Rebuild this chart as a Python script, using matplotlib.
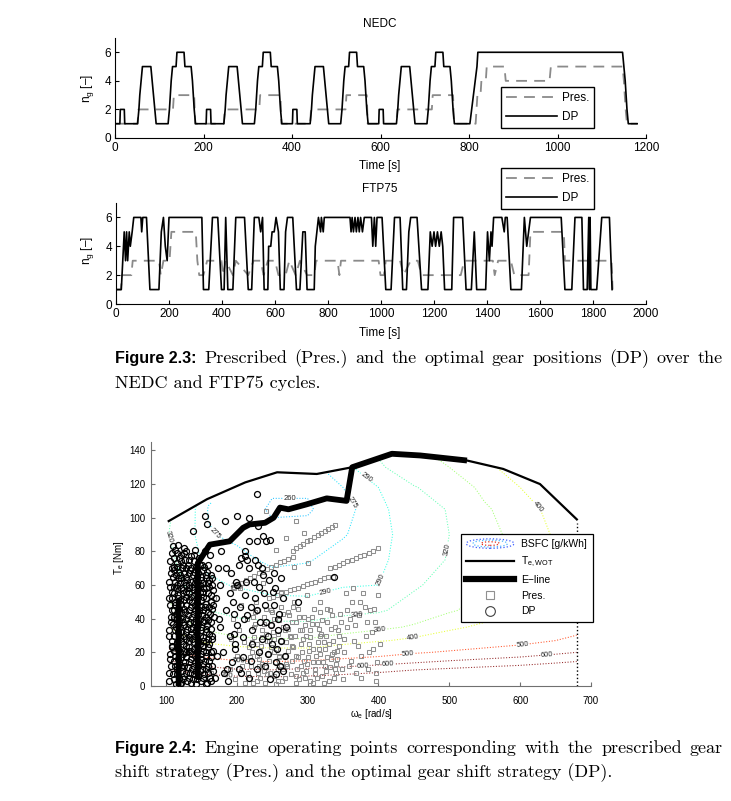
import numpy as np
import matplotlib
matplotlib.use("Agg")
import matplotlib.pyplot as plt
from matplotlib.patches import Polygon, Ellipse
from matplotlib.legend_handler import HandlerBase
from matplotlib.lines import Line2D
from matplotlib.colors import Normalize

# -------------------------------
# data: gear positions (time [s], gear)
# -------------------------------
nedc_dp = [
    (0, 1), (11, 1), (12, 2), (21, 2), (22, 1), (51, 1), (54, 2), (56, 3), (59, 4), (62, 5), (81, 5), (84, 4), (87, 3),
    (90, 2), (93, 1), (120, 1), (123, 2), (125, 3), (127, 4), (130, 5), (138, 5), (140, 6), (156, 6), (158, 5), (172, 5),
    (175, 4), (177, 3), (179, 2), (182, 1),
    (195, 1), (206, 1), (207, 2), (216, 2), (217, 1), (246, 1), (249, 2), (251, 3), (254, 4), (257, 5), (276, 5), (279, 4),
    (282, 3), (285, 2), (288, 1), (315, 1), (318, 2), (320, 3), (322, 4), (325, 5), (333, 5), (335, 6), (351, 6), (353, 5),
    (367, 5), (370, 4), (372, 3), (374, 2), (377, 1),
    (390, 1), (401, 1), (402, 2), (411, 2), (412, 1), (441, 1), (444, 2), (446, 3), (449, 4), (452, 5), (471, 5), (474, 4),
    (477, 3), (480, 2), (483, 1), (510, 1), (513, 2), (515, 3), (517, 4), (520, 5), (528, 5), (530, 6), (546, 6), (548, 5),
    (562, 5), (565, 4), (567, 3), (569, 2), (572, 1),
    (585, 1), (596, 1), (597, 2), (606, 2), (607, 1), (636, 1), (639, 2), (641, 3), (644, 4), (647, 5), (666, 5), (669, 4),
    (672, 3), (675, 2), (678, 1), (705, 1), (708, 2), (710, 3), (712, 4), (715, 5), (723, 5), (725, 6), (741, 6), (743, 5),
    (757, 5), (760, 4), (762, 3), (764, 2), (767, 1),
    (802, 1), (806, 2), (810, 3), (814, 4), (818, 5), (820, 6), (1147, 6), (1150, 5), (1153, 4), (1155, 3), (1157, 2),
    (1160, 1), (1180, 1),
]

nedc_pres = [
    (0, 1), (51, 1), (53, 2), (131, 2), (133, 3), (179, 3), (181, 1),
    (246, 1), (248, 2), (326, 2), (328, 3), (374, 3), (376, 1),
    (441, 1), (443, 2), (521, 2), (523, 3), (569, 3), (571, 1),
    (636, 1), (638, 2), (716, 2), (718, 3), (764, 3), (766, 1),
    (815, 1), (817, 2), (819, 3), (826, 3), (828, 4), (838, 4), (840, 5), (880, 5), (883, 4), (982, 4), (985, 5),
    (1147, 5), (1150, 4), (1152, 3), (1154, 2), (1157, 1), (1180, 1),
]

ftp_dp = [
    (0, 1), (20, 1), (31, 5), (36, 3), (40, 5), (44, 3), (50, 5), (54, 4), (61, 5), (67, 6), (94, 6), (97, 5), (101, 6),
    (115, 6), (128, 1), (162, 1), (171, 5), (179, 6), (186, 4), (193, 3), (200, 6), (324, 6), (330, 1), (350, 1),
    (364, 6), (384, 6), (398, 1), (408, 1), (414, 6), (422, 1), (441, 1), (452, 6), (485, 6), (499, 1), (512, 1),
    (522, 6), (539, 6), (546, 5), (553, 6), (559, 1), (573, 1), (576, 4), (584, 4), (589, 5), (597, 5), (604, 6),
    (613, 5), (620, 1), (634, 1), (640, 5), (647, 6), (667, 6), (681, 1), (694, 1), (705, 5), (714, 5), (721, 1),
    (748, 1), (752, 4), (758, 5), (764, 6), (772, 5), (775, 6), (782, 5), (786, 6), (883, 6), (887, 5), (891, 6),
    (896, 5), (902, 6), (907, 5), (913, 6), (918, 5), (923, 6), (930, 5), (937, 6), (964, 6), (969, 4), (975, 6),
    (980, 4), (985, 6), (1004, 6), (1018, 1), (1038, 1), (1051, 6), (1072, 6), (1082, 1), (1096, 1), (1105, 5),
    (1112, 6), (1136, 6), (1153, 1), (1177, 1), (1186, 5), (1193, 4), (1200, 5), (1206, 4), (1213, 5), (1220, 4),
    (1227, 5), (1233, 4), (1240, 1), (1267, 1), (1274, 6), (1308, 6), (1321, 1), (1341, 1), (1352, 5), (1361, 1),
    (1395, 1), (1402, 5), (1409, 3), (1415, 5), (1419, 4), (1425, 6), (1456, 6), (1465, 5), (1469, 6), (1476, 6),
    (1490, 1), (1530, 1), (1541, 6), (1550, 4), (1557, 5), (1564, 6), (1680, 6), (1694, 1), (1720, 1), (1732, 6),
    (1758, 6), (1764, 1), (1778, 1), (1784, 6), (1787, 1), (1789, 6), (1792, 1), (1814, 1), (1833, 6), (1862, 6),
    (1872, 1),
]

ftp_pres = [
    (0, 1), (18, 1), (23, 2), (58, 2), (63, 3), (162, 3), (169, 2), (179, 3), (202, 3), (209, 5), (301, 5), (307, 3),
    (314, 2), (330, 2), (344, 3), (398, 3), (404, 2), (414, 3), (441, 2), (452, 3), (499, 2), (519, 3), (546, 3),
    (557, 2), (573, 3), (600, 3), (613, 2), (640, 2), (654, 3), (678, 2), (694, 3), (721, 2), (748, 2), (755, 3),
    (836, 3), (843, 2), (849, 3), (991, 3), (998, 2), (1011, 2), (1018, 3), (1072, 3), (1085, 2), (1112, 3),
    (1139, 3), (1153, 2), (1301, 2), (1314, 3), (1422, 3), (1429, 2), (1442, 3), (1490, 3), (1503, 2), (1557, 2),
    (1564, 5), (1690, 5), (1694, 3), (1870, 3), (1874, 1),
]

# -------------------------------
# data: engine map (omega_e [rad/s], T_e [Nm])
# -------------------------------
wot_w = [104, 158, 212, 257, 313, 363, 419, 459, 525, 576, 628, 680]
wot_t = [98, 111, 121, 127, 126, 130, 138, 137, 134, 129, 120, 99]

eline_w = [118, 118, np.nan, 145, 145, 162, 176, 190, 209, 218, 240, 252, 261, 273, 299, 327, 355, 363, 419, 459, 525]
eline_t = [0, 52, np.nan, 4, 73, 84, 85, 86, 94, 96, 97, 100, 106, 105, 108, 111.5, 110, 130, 138, 137, 134]

bsfc_w = [104, 130, 160, 200, 250, 300, 350, 400, 450, 500, 550, 600, 650, 680]
bsfc_t = [0, 5, 10, 15, 20, 27, 35, 45, 60, 75, 90, 105, 118, 130, 145]
bsfc_cols = [
    [900, 800, 700, 600, 520, 450, 400, 370, 345, 330, 320, 325, 340, 360, 380],
    [880, 770, 660, 560, 480, 410, 370, 340, 315, 302, 298, 300, 310, 330, 350],
    [860, 740, 630, 530, 450, 385, 350, 320, 295, 283, 276, 274, 280, 300, 320],
    [850, 720, 600, 500, 430, 370, 335, 308, 288, 279, 272, 268, 272, 285, 305],
    [840, 710, 590, 490, 420, 365, 330, 302, 282, 272, 264, 258, 262, 275, 295],
    [840, 720, 610, 500, 420, 365, 330, 300, 282, 274, 266, 258, 262, 272, 290],
    [850, 740, 630, 520, 440, 380, 340, 310, 288, 280, 274, 270, 275, 280, 295],
    [870, 760, 660, 540, 460, 395, 350, 315, 290, 284, 282, 284, 290, 315, 330],
    [890, 790, 690, 570, 490, 410, 365, 335, 315, 305, 302, 305, 318, 340, 360],
    [910, 810, 710, 600, 510, 430, 390, 355, 335, 322, 320, 322, 335, 360, 380],
    [930, 830, 730, 620, 530, 450, 410, 375, 360, 350, 348, 355, 370, 390, 410],
    [950, 850, 750, 640, 550, 470, 430, 395, 380, 372, 372, 380, 400, 420, 440],
    [980, 880, 780, 670, 580, 500, 455, 420, 405, 400, 405, 415, 430, 450, 470],
    [1000, 900, 800, 690, 600, 520, 470, 440, 425, 420, 425, 440, 455, 475, 495],
]
bsfc_levels = [260, 275, 290, 320, 360, 400, 500, 600, 700]
# where the contour labels sit in the picture
bsfc_label_pos = [
    (275, 114), (173, 112), (159, 88), (320, 65), (374, 112), (378, 121), (197, 55), (416, 61),
    (113, 90), (370, 43), (497, 81), (402, 33), (449, 27), (631, 109), (442, 19), (204, 17),
    (378, 14), (604, 21), (414, 11), (638, 17), (186, 7),
]

dp_points = [
    (105, 3), (107, 12), (106, 19), (108, 27), (105, 33), (107, 41), (106, 48), (108, 56), (105, 62), (107, 67), (106, 74),
    (110, 7), (111, 15), (109, 24), (112, 30), (110, 37), (111, 45), (109, 52), (112, 59), (110, 65), (111, 71), (109, 79),
    (114, 1), (115, 10), (113, 18), (116, 26), (114, 35), (115, 43), (113, 50), (116, 58), (114, 66), (115, 73), (113, 81),
    (118, 5), (119, 13), (117, 22), (120, 29), (118, 39), (119, 46), (117, 54), (120, 61), (118, 68), (119, 76), (117, 84),
    (122, 2), (123, 9), (121, 17), (124, 25), (122, 32), (123, 40), (121, 49), (124, 57), (122, 64), (123, 70), (121, 78),
    (126, 6), (127, 14), (125, 21), (128, 28), (126, 36), (127, 44), (125, 51), (128, 60), (126, 67), (127, 75), (125, 82),
    (130, 3), (131, 11), (129, 20), (132, 27), (130, 34), (131, 42), (129, 53), (132, 58), (130, 63), (131, 72), (129, 80),
    (134, 8), (135, 16), (133, 23), (136, 31), (134, 38), (135, 47), (133, 55), (136, 62), (134, 69), (135, 77),
    (138, 4), (139, 12), (137, 19), (140, 26), (138, 35), (139, 43), (137, 50), (140, 57), (138, 66), (139, 74),
    (142, 1), (143, 9), (141, 18), (144, 24), (142, 33), (143, 40), (141, 48), (144, 56), (142, 63), (143, 71), (141, 81),
    (146, 6), (147, 14), (145, 22), (148, 30), (146, 37), (147, 45), (145, 53), (148, 60), (146, 67), (147, 76),
    (150, 3), (151, 10), (149, 19), (152, 27), (150, 35), (151, 42), (149, 51), (152, 58), (150, 65), (151, 72),
    (154, 7), (155, 15), (153, 24), (156, 32), (154, 39), (155, 47), (153, 56), (156, 64), (154, 71), (155, 80),
    (158, 2), (159, 12), (157, 20), (160, 28), (158, 36), (159, 44), (157, 52), (160, 61), (158, 68),
    (162, 5), (163, 17), (161, 25), (164, 34), (162, 43), (163, 50), (161, 59), (164, 66), (162, 78),
    (166, 9), (167, 21), (165, 30), (168, 41), (166, 48), (167, 57), (165, 64),
    (104, 8), (106, 16), (108, 23), (105, 30), (107, 38), (109, 45), (104, 52), (106, 59), (108, 70), (110, 83),
    (112, 4), (113, 12), (111, 21), (113, 33), (112, 41), (113, 48), (111, 55), (113, 62), (112, 69), (111, 76),
    (116, 7), (117, 16), (115, 24), (117, 32), (116, 40), (117, 52), (115, 60), (117, 64), (116, 71), (115, 79),
    (120, 1), (121, 11), (120, 20), (121, 27), (120, 35), (121, 44), (120, 51), (121, 58), (120, 66), (122, 74),
    (124, 4), (125, 12), (124, 19), (125, 30), (124, 38), (125, 46), (124, 55), (125, 62), (124, 72), (126, 79),
    (128, 8), (129, 17), (128, 24), (129, 32), (128, 40), (129, 48), (128, 56), (129, 65), (128, 70),
    (132, 5), (133, 14), (132, 21), (133, 29), (132, 37), (133, 45), (132, 51), (133, 60), (132, 67), (133, 75),
    (136, 2), (137, 10), (136, 21), (137, 28), (136, 34), (137, 41), (136, 53), (137, 59), (136, 70),
    (140, 7), (141, 14), (140, 22), (141, 30), (140, 38), (141, 45), (140, 54), (141, 61), (140, 68), (140, 78),
    (144, 4), (145, 12), (144, 20), (145, 27), (144, 35), (145, 43), (144, 50), (145, 58), (144, 65),
    (148, 9), (149, 16), (148, 25), (149, 33), (148, 40), (149, 47), (148, 56), (149, 63), (148, 72),
    (152, 5), (153, 13), (152, 21), (153, 29), (152, 38), (153, 45), (152, 53), (153, 61), (152, 69),
    (156, 1), (157, 10), (156, 18), (157, 26), (156, 34), (157, 41), (156, 49), (157, 58), (156, 66),
    (160, 8), (161, 15), (160, 23), (161, 31), (160, 39), (161, 47), (160, 55), (161, 63), (160, 72),
    (164, 3), (165, 12), (164, 20), (165, 28), (164, 38), (165, 46), (164, 54), (165, 60),
    (170, 5), (172, 18), (175, 40), (171, 52), (176, 60), (173, 70), (178, 80), (186, 10), (190, 30), (185, 45),
    (192, 67), (195, 50), (198, 25), (200, 60), (203, 72), (206, 8), (210, 40), (212, 54), (214, 75), (217, 86),
    (220, 15), (222, 33), (225, 62), (228, 45), (232, 20), (235, 70), (238, 55), (240, 12), (242, 38), (245, 63),
    (250, 25), (252, 48), (254, 58), (256, 7), (258, 33), (260, 43), (262, 64), (265, 52), (268, 18), (270, 35),
    (188, 3), (193, 14), (197, 22), (201, 36), (205, 47), (209, 17), (213, 62), (218, 5), (221, 25), (226, 52),
    (229, 10), (233, 38), (236, 28), (240, 48), (244, 19), (247, 4), (251, 56), (255, 14), (258, 40), (262, 27),
    (266, 9), (249, 36), (237, 66), (226, 75), (214, 42), (203, 10), (196, 43), (190, 55), (185, 70), (180, 20),
    (177, 35), (182, 8), (244, 30), (257, 22), (261, 12), (253, 67), (231, 59), (220, 47), (209, 29), (199, 62),
    (228, 114), (155, 101), (158, 96), (138, 92), (183, 98), (200, 101), (217, 100), (230, 95), (237, 89), (242, 86),
    (247, 87), (228, 86), (212, 80), (211, 77), (286, 50), (337, 65), (196, 31), (206, 76), (218, 70), (230, 72),
]

pres_points = [
    (108, 22), (112, 40), (118, 57), (124, 12), (128, 70), (133, 30), (140, 48), (146, 18), (152, 62), (158, 38),
    (164, 8), (168, 52),
    (190, 10), (192, 28), (195, 40), (198, 4), (200, 18), (203, 33), (206, 48), (208, 12), (210, 26), (212, 2),
    (214, 40), (196, 58), (205, 58), (215, 15),
    (218, 4), (220, 12), (222, 20), (224, 29), (226, 37), (228, 45), (230, 8), (232, 16), (234, 24), (236, 33),
    (238, 41), (240, 2), (242, 11), (244, 19), (246, 27), (248, 36), (250, 44), (252, 6), (254, 14), (256, 22),
    (258, 31), (260, 39), (262, 47), (264, 3), (266, 10), (268, 18), (270, 26), (272, 34), (274, 42), (276, 7),
    (278, 15), (280, 23), (282, 30), (284, 38), (286, 46), (288, 4), (290, 12), (292, 20), (294, 28), (296, 36),
    (298, 9), (300, 17), (302, 25), (304, 33), (306, 41), (308, 2), (310, 10), (312, 18), (314, 26), (316, 34),
    (318, 44), (320, 6), (322, 14), (324, 22), (326, 30), (328, 38), (330, 3), (332, 11), (334, 19), (336, 27),
    (338, 35), (340, 8), (342, 16), (344, 24), (346, 43),
    (223, 2), (229, 25), (235, 13), (241, 31), (247, 8), (253, 28), (259, 17), (265, 35), (271, 12), (277, 29),
    (283, 6), (289, 33), (295, 15), (301, 40), (307, 22), (313, 5), (319, 31), (325, 12), (331, 45), (337, 20),
    (343, 33), (227, 50), (245, 52), (263, 56), (281, 50), (299, 54), (317, 50),
    (216, 8), (219, 17), (221, 26), (224, 35), (226, 44), (229, 3), (231, 12), (233, 21), (236, 29), (239, 37),
    (241, 46), (243, 7), (246, 15), (248, 23), (251, 32), (253, 40), (255, 1), (258, 10), (260, 18), (263, 27),
    (265, 43), (268, 5), (270, 13), (273, 21), (275, 30), (278, 38), (280, 47), (283, 2), (285, 10), (287, 17),
    (290, 25), (292, 33), (295, 41), (297, 5), (299, 13), (302, 21), (304, 29), (306, 37), (309, 46), (311, 7),
    (314, 14), (316, 22), (318, 30), (321, 39), (323, 2), (326, 9), (328, 17), (330, 25), (333, 34), (335, 42),
    (337, 5), (340, 13), (342, 21), (345, 30), (347, 38), (349, 10),
    (218, 23), (228, 18), (238, 9), (248, 45), (258, 3), (268, 33), (278, 24), (288, 41), (298, 30), (308, 14),
    (318, 19), (328, 46), (338, 10), (223, 41), (233, 5), (243, 27), (253, 20), (263, 12), (273, 44), (283, 18),
    (293, 8), (303, 3), (313, 37), (323, 26), (333, 16),
    (350, 4), (352, 20), (355, 35), (358, 12), (362, 50), (365, 27), (368, 8), (372, 42), (375, 18), (378, 55),
    (382, 30), (385, 10), (388, 45), (392, 22), (395, 38), (398, 14), (400, 54), (396, 3), (360, 40),
    (352, 28), (356, 45), (361, 15), (367, 36), (371, 24), (376, 5), (381, 47), (386, 20), (391, 32), (397, 8),
    (354, 55), (364, 58), (374, 50), (384, 38), (394, 46), (402, 25),
    (241, 104), (284, 98), (295, 91), (256, 81), (281, 71), (300, 73), (269, 88), (237, 61),
    # constant-speed chains
    (195, 59), (201, 60), (207, 61.5), (213, 63), (219, 64), (225, 65.5), (231, 67), (237, 68), (243, 69.5),
    (249, 71), (255, 72), (261, 73.5), (267, 74.5), (273, 75.5), (279, 76.5),
    (279, 80.5), (284, 82), (289, 83), (294, 84.5), (299, 86), (304, 87), (309, 88.5), (314, 89.5), (319, 91),
    (324, 92), (329, 93.5), (334, 94.5), (339, 95.5),
    (251, 53), (257, 54), (263, 55), (269, 56), (275, 57), (281, 57.5), (287, 58.5), (293, 59.5), (299, 60.5),
    (305, 61), (311, 62), (317, 63), (323, 64), (329, 64.5), (336, 65),
    (332, 70), (338, 71), (344, 72), (350, 73), (356, 74), (362, 75), (368, 76), (374, 77), (380, 78), (386, 79),
    (392, 80), (400, 82),
]

W, H = 731, 801
plt.rcParams['font.family'] = ['Liberation Sans', 'DejaVu Sans']
plt.rcParams['mathtext.fontset'] = 'custom'
plt.rcParams['mathtext.rm'] = 'Liberation Sans'
plt.rcParams['mathtext.it'] = 'Liberation Sans:italic'

fig = plt.figure(figsize=(W / 100, H / 100), dpi=100)


def px_axes(l, t, r, b):
    return fig.add_axes([l / W, 1 - b / H, (r - l) / W, (b - t) / H])


def ftext(x, y, s, **kw):
    return fig.text(x / W, 1 - y / H, s, **kw)


# -------------------------------
# gear plots
# -------------------------------
def gear_plot(ax, pres, dp, xmax, title, ty, xly, yly, leg_top):
    pt, pg = np.array(pres).T
    dt, dg = np.array(dp).T
    lp, = ax.plot(pt, pg, color='#8a8a8a', ls=(0, (6, 4)), lw=1.3)
    ld, = ax.plot(dt, dg, color='black', lw=1.2)
    ax.set_xlim(0, xmax)
    ax.set_ylim(0, 7)
    ax.set_xticks(np.arange(0, xmax + 1, 200))
    ax.set_yticks([0, 2, 4, 6])
    for s in ['top', 'right']:
        ax.spines[s].set_visible(False)
    for s in ['left', 'bottom']:
        ax.spines[s].set_linewidth(0.8)
    ax.tick_params(direction='in', length=3, width=0.8, labelsize=8.5, pad=3)
    ftext(380, ty, title, ha='center', va='center', fontsize=8.5)
    ftext(380, xly, 'Time [s]', ha='center', va='center', fontsize=8.5)
    ftext(88, yly, r'n$_\mathregular{g}$ [–]', ha='center', va='center', rotation=90, fontsize=8.5)
    leg = ax.legend([lp, ld], ['Pres.', 'DP'], loc='upper left',
                    bbox_to_anchor=(501 / W, 1 - leg_top / H), bbox_transform=fig.transFigure,
                    fontsize=8.5, handlelength=4.3, handletextpad=0.4, borderpad=0.45,
                    labelspacing=0.55, fancybox=False, edgecolor='black', framealpha=1, borderaxespad=0)
    leg.get_frame().set_linewidth(1.0)


ax1 = px_axes(115, 38, 646, 138)
gear_plot(ax1, nedc_pres, nedc_dp, 1200, 'NEDC', 24, 166, 88, 87)
ax2 = px_axes(116, 203, 646, 304)
gear_plot(ax2, ftp_pres, ftp_dp, 2000, 'FTP75', 189, 333, 250, 168)

# -------------------------------
# engine map
# -------------------------------
ax3 = px_axes(151, 442, 591, 686)
Z = np.array(bsfc_cols).T
cs = ax3.contour(bsfc_w, bsfc_t, Z, levels=bsfc_levels, cmap='jet', norm=Normalize(125, 565),
                 linestyles='dotted', linewidths=0.75, alpha=0.85, zorder=1)
clip = Polygon(list(zip(wot_w, wot_t)) + [(680, 0), (104, 0)], closed=True,
               transform=ax3.transData, facecolor='none', edgecolor='none')
cs.set_clip_path(clip)
labels = ax3.clabel(cs, fontsize=5.5, fmt='%d', inline=True, inline_spacing=1, colors='black',
                    manual=bsfc_label_pos)
for txt in labels:
    x, y = txt.get_position()
    if y > np.interp(x, wot_w, wot_t) - 2:
        txt.remove()

pw, pt = np.array(pres_points).T
ax3.plot(pw, pt, ls='none', marker='s', ms=3.2, mfc='none', mec='#8f8f8f', mew=0.75, zorder=2)
dw, dtq = np.array(dp_points).T
ax3.plot(dw, dtq, ls='none', marker='o', ms=4.3, mfc='none', mec='black', mew=0.9, zorder=3)
ax3.plot(wot_w, wot_t, color='black', lw=1.6, zorder=4)
ax3.plot([680, 680], [0, 97], color='black', ls=':', lw=1.0, zorder=4)
ax3.plot(eline_w, eline_t, color='black', lw=4.2, solid_capstyle='butt', zorder=5)

ax3.set_xlim(79, 700)
ax3.set_ylim(0, 145)
ax3.set_xticks(range(100, 701, 100))
ax3.set_yticks(range(0, 141, 20))
for s in ['top', 'right']:
    ax3.spines[s].set_visible(False)
for s in ['left', 'bottom']:
    ax3.spines[s].set_color('#707070')
    ax3.spines[s].set_linewidth(0.8)
ax3.tick_params(direction='in', length=3, color='#707070', labelsize=7)
ax3.tick_params(axis='x', pad=7)
ax3.tick_params(axis='y', pad=4)
ftext(371, 714, r'ω$_\mathregular{e}$ [rad/s]', ha='center', va='center', fontsize=7)
ftext(119, 558, r'T$_\mathregular{e}$ [Nm]', ha='center', va='center', rotation=90, fontsize=7)


class BsfcHandler(HandlerBase):
    def create_artists(self, legend, orig, xd, yd, width, height, fontsize, trans):
        cx, cy = width / 2 - xd, height / 2 - yd
        arts = []
        for sc, col in [(1.0, '#3a5cff'), (0.72, '#4fb8ff'), (0.38, '#e0301e')]:
            arts.append(Ellipse((cx, cy), width * sc, height * 1.3 * sc, fill=False, ls=':',
                                lw=0.9, edgecolor=col, transform=trans))
        return arts


bsfc_proxy = Ellipse((0, 0), 1, 1)
h_wot = Line2D([], [], color='black', lw=1.6)
h_el = Line2D([], [], color='black', lw=4.5)
h_pres = Line2D([], [], ls='none', marker='s', ms=5.5, mfc='none', mec='#909090', mew=0.8)
h_dp = Line2D([], [], ls='none', marker='o', ms=7, mfc='none', mec='#404040', mew=0.8)
leg3 = ax3.legend([bsfc_proxy, h_wot, h_el, h_pres, h_dp],
                  ['BSFC [g/kWh]', r'T$_\mathregular{e,WOT}$', 'E−line', 'Pres.', 'DP'],
                  handler_map={bsfc_proxy: BsfcHandler()}, loc='upper left',
                  bbox_to_anchor=(461 / W, 1 - 534 / H), bbox_transform=fig.transFigure,
                  fontsize=7.5, handlelength=4.6, handletextpad=0.7, borderpad=0.5, labelspacing=0.55,
                  fancybox=False, edgecolor='black', framealpha=1, borderaxespad=0)
leg3.get_frame().set_linewidth(0.9)

# -------------------------------
# captions
# -------------------------------
bold = dict(family='Liberation Sans', weight='bold', size=11.6)
serif = dict(family='cmr10', size=13)


def justify(parts, x0, x1, y):
    r = fig.canvas.get_renderer()
    arts = [ftext(x0, y, s, va='baseline', **kw) for s, kw in parts]
    widths = [a.get_window_extent(r).width for a in arts]
    gap = (x1 - x0 - sum(widths)) / (len(arts) - 1)
    x = x0
    for a, w in zip(arts, widths):
        a.set_x(x / W)
        x += w + gap


cap1 = 'Prescribed (Pres.) and the optimal gear positions (DP) over the'
cap2 = 'Engine operating points corresponding with the prescribed gear'
justify([('Figure 2.3:', bold)] + [(w, serif) for w in cap1.split()], 115, 723, 363)
ftext(115, 388, 'NEDC and FTP75 cycles.', va='baseline', **serif)
justify([('Figure 2.4:', bold)] + [(w, serif) for w in cap2.split()], 115, 723, 753)
ftext(115, 777, 'shift strategy (Pres.) and the optimal gear shift strategy (DP).', va='baseline', **serif)

fig.savefig('out.png', dpi=100)
